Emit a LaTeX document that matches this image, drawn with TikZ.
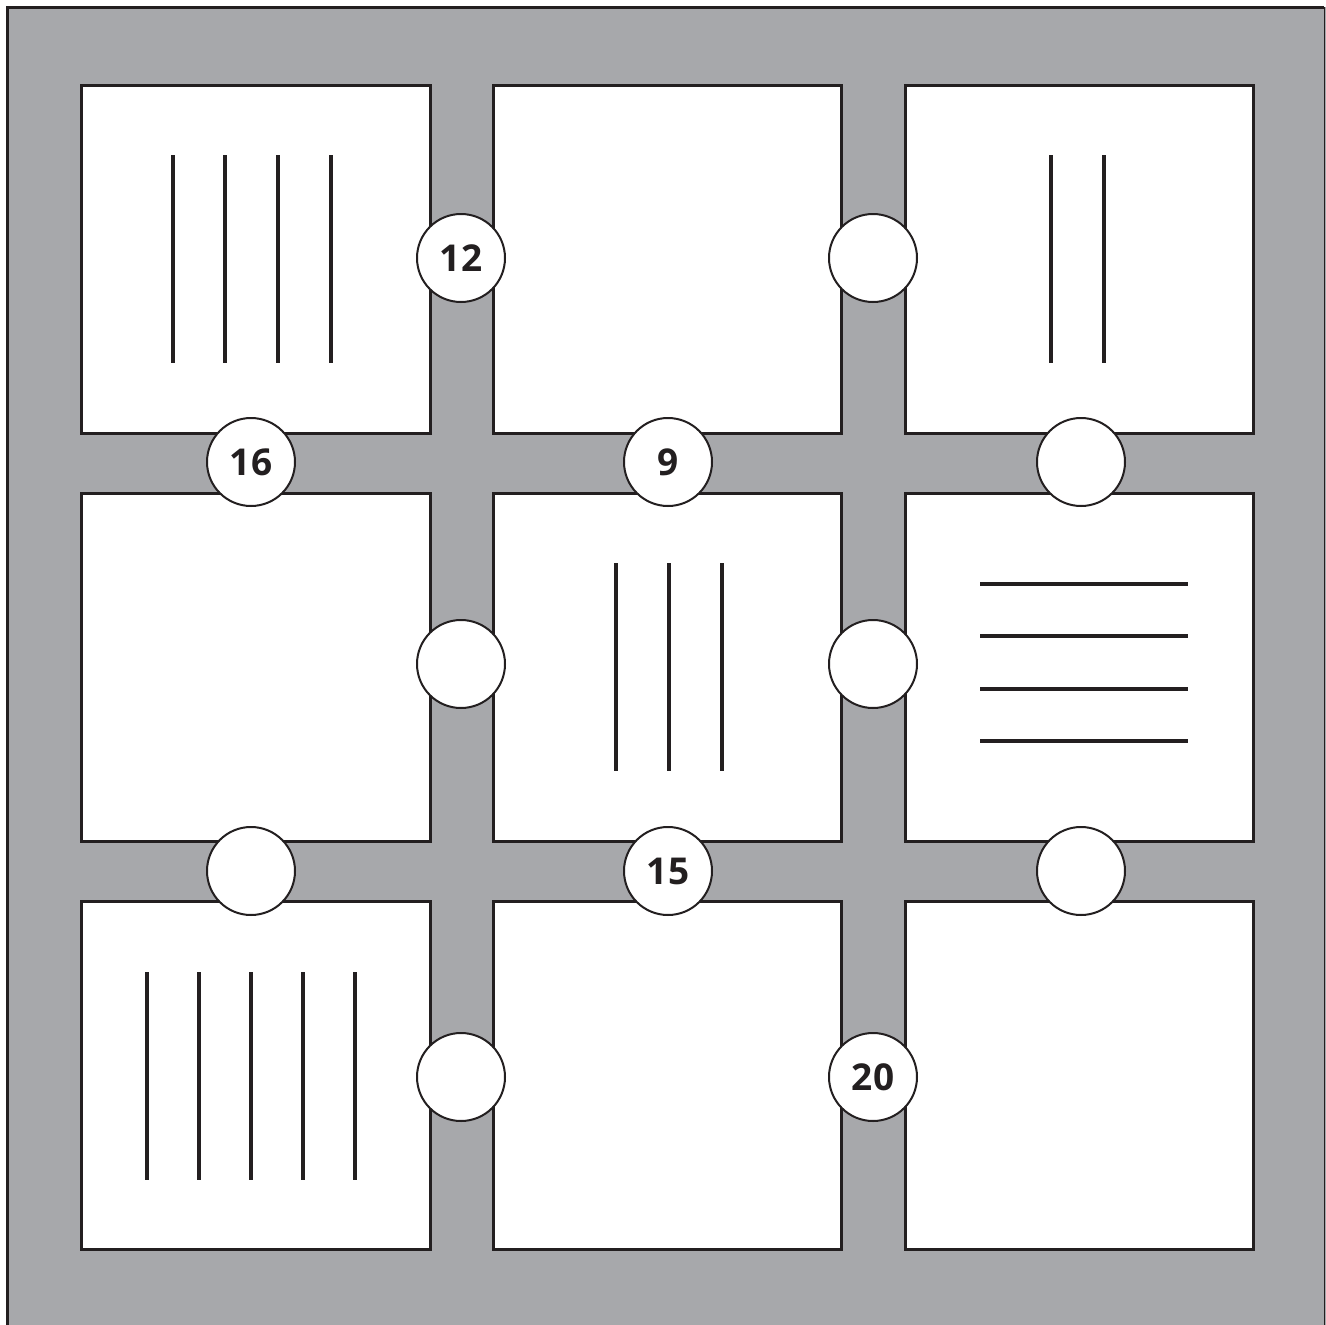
\documentclass[tikz,border=0pt]{standalone}
\usepackage{fontspec}
\setmainfont{Open Sans}
\definecolor{bggray}{HTML}{A7A8AB}
\definecolor{ink}{HTML}{231F20}
\tikzset{
  sq/.style={draw=ink, fill=white, line width=3pt},
  bar/.style={draw=ink, line width=4pt},
  disc/.style={circle, draw=ink, fill=white, line width=2pt, minimum size=88pt, inner sep=0pt, font=\fontsize{37}{37}\selectfont\bfseries, text=ink},
}
\begin{document}
\begin{tikzpicture}[x=1pt,y=-1pt]
\useasboundingbox (0,0) rectangle (1326,1325);
\fill[bggray] (7,7) rectangle (1326,1325);
\draw[ink, line width=3pt] (7,1325) -- (7,7) -- (1324,7);
\draw[ink, line width=1.5pt] (1324.5,7) -- (1324.5,1325);
% squares
\foreach \c/\xa/\xb in {1/81/430, 2/493/841, 3/905/1253}{
  \foreach \r/\ya/\yb in {1/85/433, 2/493/841, 3/901/1249}{
    \draw[sq] (\xa,\ya) rectangle (\xb,\yb);
  }
}
% bars top-left
\foreach \x in {173,225,278,331}{ \draw[bar] (\x,155) -- (\x,363); }
% bars top-right
\foreach \x in {1051,1104}{ \draw[bar] (\x,155) -- (\x,363); }
% bars middle
\foreach \x in {616,669,722}{ \draw[bar] (\x,563) -- (\x,771); }
% horizontal bars middle-right
\foreach \y in {584,636,689,741}{ \draw[bar] (980,\y) -- (1188,\y); }
% bars bottom-left
\foreach \x in {147,199,251,303,355}{ \draw[bar] (\x,972) -- (\x,1180); }
% circles
\node[disc] (c1) at (461,258) {12};
\node[disc] (c2) at (873,258) {};
\node[disc] (c3) at (251,462) {16};
\node[disc] (c4) at (668,462) {9};
\node[disc] (c5) at (1081,462) {};
\node[disc] (c6) at (461,664) {};
\node[disc] (c7) at (873,664) {};
\node[disc] (c8) at (251,871) {};
\node[disc] (c9) at (668,871) {15};
\node[disc] (c10) at (1081,871) {};
\node[disc] (c11) at (461,1077) {};
\node[disc] (c12) at (873,1077) {20};
\end{tikzpicture}
\end{document}
